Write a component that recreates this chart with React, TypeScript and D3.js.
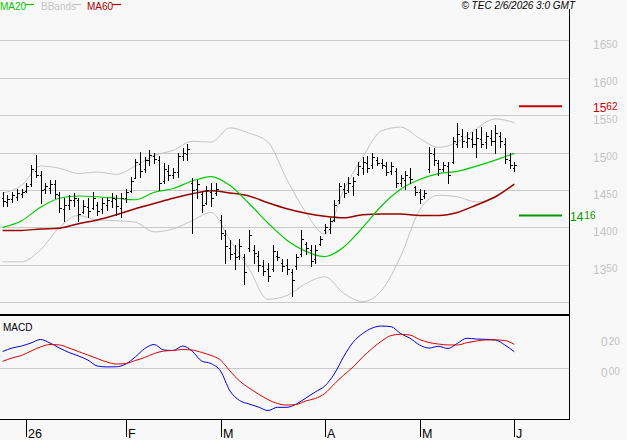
import * as d3 from "d3"

// daily bars, Dec 23 2025 .. Jun 1 2026 (index based)
const highs = [
  1448, 1443, 1448, 1451, 1451, 1459, 1483, 1497, 1476, 1459, 1463, 1463, 1447, 1439, 1443, 1446,
  1439, 1436, 1439, 1447, 1434, 1439, 1441, 1446, 1443, 1446, 1452, 1467, 1492, 1501, 1494, 1504,
  1499, 1495, 1486, 1483, 1480, 1500, 1506, 1512, 1466, 1463, 1447, 1456, 1460, 1459, 1417, 1396,
  1383, 1376, 1385, 1365, 1396, 1376, 1369, 1356, 1352, 1376, 1369, 1358, 1358, 1345, 1365, 1396,
  1380, 1376, 1376, 1389, 1405, 1412, 1436, 1460, 1460, 1467, 1467, 1487, 1494, 1496, 1500, 1494,
  1492, 1487, 1487, 1480, 1470, 1476, 1479, 1456, 1452, 1450, 1507, 1506, 1490, 1487, 1487, 1521,
  1539, 1532, 1527, 1527, 1532, 1534, 1527, 1530, 1537, 1527, 1519, 1499, 1487,
]
const lows = [
  1429, 1429, 1434, 1437, 1441, 1447, 1456, 1467, 1432, 1446, 1446, 1439, 1420, 1409, 1425, 1429,
  1409, 1419, 1414, 1425, 1416, 1419, 1423, 1427, 1416, 1414, 1434, 1447, 1466, 1468, 1474, 1483,
  1486, 1450, 1459, 1463, 1466, 1467, 1490, 1490, 1392, 1440, 1420, 1431, 1429, 1444, 1385, 1352,
  1358, 1345, 1358, 1325, 1369, 1353, 1342, 1336, 1329, 1342, 1356, 1342, 1338, 1309, 1345, 1362,
  1365, 1349, 1353, 1376, 1393, 1393, 1409, 1432, 1441, 1448, 1443, 1470, 1472, 1474, 1480, 1483,
  1479, 1470, 1472, 1454, 1456, 1452, 1460, 1443, 1432, 1439, 1474, 1483, 1470, 1476, 1460, 1486,
  1507, 1507, 1507, 1507, 1494, 1507, 1506, 1510, 1499, 1507, 1486, 1480, 1476,
]
const opens = [
  1440, 1434, 1438, 1441, 1445, 1449, 1458, 1476, 1470, 1452, 1453, 1458, 1444, 1425, 1430, 1436,
  1436, 1420, 1427, 1426, 1430, 1424, 1430, 1435, 1438, 1426, 1440, 1449, 1466, 1485, 1478, 1490,
  1496, 1490, 1462, 1476, 1470, 1474, 1495, 1498, 1460, 1452, 1445, 1432, 1448, 1446, 1410, 1390,
  1372, 1366, 1362, 1360, 1372, 1370, 1362, 1348, 1344, 1345, 1362, 1352, 1350, 1340, 1348, 1365,
  1378, 1370, 1358, 1378, 1396, 1398, 1410, 1436, 1452, 1450, 1455, 1472, 1480, 1486, 1484, 1490,
  1486, 1482, 1476, 1476, 1460, 1464, 1468, 1454, 1448, 1442, 1478, 1498, 1486, 1478, 1482, 1488,
  1512, 1522, 1514, 1518, 1512, 1518, 1514, 1520, 1516, 1522, 1512, 1490, 1480,
]
const closes = [
  1435, 1438, 1444, 1446, 1448, 1456, 1478, 1470, 1450, 1455, 1458, 1445, 1426, 1430, 1437, 1440,
  1418, 1428, 1422, 1440, 1422, 1432, 1436, 1440, 1428, 1440, 1447, 1462, 1487, 1476, 1490, 1497,
  1492, 1460, 1478, 1470, 1474, 1496, 1500, 1505, 1450, 1458, 1430, 1450, 1440, 1452, 1392, 1375,
  1365, 1360, 1375, 1340, 1390, 1366, 1350, 1342, 1335, 1368, 1360, 1348, 1344, 1330, 1360, 1385,
  1372, 1355, 1370, 1385, 1400, 1408, 1430, 1455, 1446, 1460, 1462, 1482, 1488, 1480, 1494, 1486,
  1484, 1474, 1482, 1460, 1466, 1470, 1465, 1447, 1438, 1446, 1500, 1490, 1478, 1484, 1470, 1515,
  1525, 1515, 1520, 1512, 1520, 1512, 1522, 1516, 1526, 1515, 1492, 1484, 1484,
]

// overlays read every 4th bar
const ma20 = [
  1400, 1409, 1427, 1439, 1442, 1441, 1439, 1437, 1447, 1452, 1462, 1468, 1456, 1432,
  1406, 1383, 1368, 1361, 1374, 1400, 1429, 1451, 1464, 1472, 1475, 1482, 1490, 1499,
]
const ma60 = [
  1396, 1396, 1398, 1399, 1405, 1410, 1417, 1425, 1432, 1439, 1445, 1449, 1446, 1442,
  1433, 1425, 1419, 1415, 1413, 1417, 1418, 1418, 1416, 1416, 1420, 1430, 1441, 1458,
]
const bbUpper = [
  1446, 1456, 1482, 1479, 1472, 1474, 1471, 1482, 1496, 1503, 1515, 1514, 1533, 1526,
  1514, 1464, 1420, 1391, 1450, 1494, 1529, 1534, 1519, 1507, 1514, 1532, 1545, 1540,
]
const bbLower = [
  1354, 1354, 1370, 1400, 1416, 1410, 1409, 1407, 1394, 1398, 1409, 1420, 1383, 1345,
  1304, 1309, 1325, 1334, 1312, 1301, 1316, 1361, 1423, 1443, 1441, 1434, 1440, 1458,
]

// MACD read every 2nd bar
const macd = [
  0.110, 0.133, 0.146, 0.166, 0.189, 0.166, 0.133, 0.104, 0.081, 0.054, 0.015, 0.009, 0.010, 0.028,
  0.074, 0.130, 0.156, 0.120, 0.117, 0.146, 0.113, 0.048, 0.031, -0.018, -0.149, -0.211, -0.234,
  -0.254, -0.277, -0.256, -0.256, -0.234, -0.195, -0.155, -0.116, -0.037, 0.077, 0.172, 0.228,
  0.264, 0.277, 0.273, 0.228, 0.197, 0.153, 0.133, 0.144, 0.130, 0.164, 0.197, 0.192, 0.190, 0.186,
  0.153, 0.109,
]
const signal = [
  0.045, 0.068, 0.084, 0.113, 0.140, 0.156, 0.153, 0.133, 0.110, 0.087, 0.064, 0.041, 0.028, 0.031,
  0.051, 0.071, 0.097, 0.113, 0.117, 0.123, 0.120, 0.104, 0.084, 0.054, -0.018, -0.083, -0.129,
  -0.169, -0.205, -0.231, -0.241, -0.237, -0.214, -0.198, -0.165, -0.103, -0.044, 0.009, 0.074,
  0.130, 0.179, 0.215, 0.223, 0.218, 0.189, 0.169, 0.159, 0.153, 0.153, 0.168, 0.179, 0.186, 0.186,
  0.182, 0.157,
]

const priceTicks = [1300, 1350, 1400, 1450, 1500, 1550, 1600, 1650]
const macdTicks = [0.2, 0]
const monthIdx = [5, 26, 46, 68, 88, 108]
const monthLabels = ["26", "F", "M", "A", "M", "J"]
const resistance = 1562
const support = 1416

const FONT = "'Liberation Sans', Arial, sans-serif"
const GRID = "#c8c8c8"

export default function App() {
  const width = 627
  const height = 440
  const right = 569.5

  const x = d3.scaleLinear().domain([0, highs.length - 1]).range([2.6, 514.3])
  const y = d3.scaleLinear().domain([1300, 1650]).range([302.3, 40.3])
  const ym = d3.scaleLinear().domain([0, 0.2]).range([368.3, 337.8])

  const px = (i) => Math.round(x(i)) + 0.5
  const py = (v) => Math.round(y(v)) + 0.5

  const maLine = d3
    .line<number>()
    .x((_, k) => x(k * 4))
    .y((d) => y(d))
    .curve(d3.curveMonotoneX)

  const macdLine = d3
    .line<number>()
    .x((_, k) => x(k * 2))
    .y((d) => ym(d))
    .curve(d3.curveMonotoneX)

  const bars = highs
    .map((h, i) => {
      const cx = px(i)
      return `M${cx},${py(h) - 0.5}V${py(lows[i]) + 0.5}M${cx - 2},${py(opens[i])}H${cx}M${cx},${py(closes[i])}H${cx + 2}`
    })
    .join("")

  const splitLabel = (s, cut) => [s.slice(0, cut), s.slice(cut)]

  return (
    <div style={{ position: "fixed", left: 0, top: 0 }}>
      <svg width={width} height={height} style={{ display: "block", background: "#f8f8f8" }}>
        {/* grid */}
        {priceTicks.map((t) => (
          <line key={t} x1={0} x2={right} y1={py(t)} y2={py(t)} stroke={GRID} strokeWidth={1} />
        ))}
        <line x1={0} x2={right} y1={Math.round(ym(0)) + 0.5} y2={Math.round(ym(0)) + 0.5} stroke={GRID} />

        {/* bollinger bands and moving averages */}
        <path d={maLine(bbUpper)} fill="none" stroke="#c4c4c4" strokeWidth={1} />
        <path d={maLine(bbLower)} fill="none" stroke="#c4c4c4" strokeWidth={1} />
        <path d={maLine(ma60)} fill="none" stroke="#990000" strokeWidth={1.5} />
        <path d={maLine(ma20)} fill="none" stroke="#00cc00" strokeWidth={1.2} />

        {/* bars */}
        <path d={bars} fill="none" stroke="#000" strokeWidth={1} shapeRendering="crispEdges" />

        {/* support / resistance */}
        <line x1={519} x2={562} y1={y(resistance)} y2={y(resistance)} stroke="#cc0000" strokeWidth={2} />
        <line x1={519} x2={562} y1={y(support)} y2={y(support)} stroke="#009900" strokeWidth={2} />

        {/* frame */}
        <line x1={right} x2={right} y1={9} y2={419.5} stroke="#000" strokeWidth={1} />
        <line x1={0} x2={right} y1={315} y2={315} stroke="#000" strokeWidth={2} />
        <line x1={0} x2={right + 0.5} y1={419.5} y2={419.5} stroke="#000" strokeWidth={1} />

        {/* price labels */}
        <g fontFamily={FONT} fill="#c4c4c4">
          {priceTicks.slice(1).map((t) => {
            const [a, b] = splitLabel(String(t), 2)
            return (
              <text key={t} x={593} y={y(t) + 9}>
                <tspan fontSize={12}>{a}</tspan>
                <tspan fontSize={10} dy={-1.5}>{b}</tspan>
              </text>
            )
          })}
          {macdTicks.map((t) => {
            const [a, b] = splitLabel(t.toFixed(2).replace(".", ""), 1)
            return (
              <text key={t} x={601} y={ym(t) + 8.5}>
                <tspan fontSize={12}>{a}</tspan>
                <tspan fontSize={10} dx={1} dy={-1.5}>{b}</tspan>
              </text>
            )
          })}
        </g>

        <text x={593} y={y(resistance) + 5.5} fontFamily={FONT} fill="#cc0000">
          <tspan fontSize={12}>{String(resistance).slice(0, 2)}</tspan>
          <tspan fontSize={10} dy={-1.5}>{String(resistance).slice(2)}</tspan>
        </text>
        <text x={570} y={y(support) + 5.5} fontFamily={FONT} fill="#009900">
          <tspan fontSize={12}>{String(support).slice(0, 2)}</tspan>
          <tspan fontSize={10} dx={1} dy={-1.5}>{String(support).slice(2)}</tspan>
        </text>

        {/* macd */}
        <path d={macdLine(macd)} fill="none" stroke="#0000dd" strokeWidth={1} />
        <path d={macdLine(signal)} fill="none" stroke="#dd0000" strokeWidth={1} />
        <text x={3} y={331} fontFamily={FONT} fontSize={10} fill="#000">MACD</text>

        {/* month axis */}
        {monthIdx.map((m, k) => (
          <g key={k}>
            <line x1={px(m)} x2={px(m)} y1={419.5} y2={437} stroke="#000" />
            <text x={px(m) + 1.5} y={437.5} fontFamily={FONT} fontSize={12.5} fill="#000">
              {monthLabels[k]}
            </text>
          </g>
        ))}

        {/* legend */}
        <g fontFamily={FONT} fontSize={10}>
          <text x={0} y={9.5} fill="#00cc00">MA20</text>
          <line x1={25} x2={34} y1={4.5} y2={4.5} stroke="#00cc00" strokeWidth={1.2} />
          <text x={41} y={9.5} fill="#c4c4c4">BBands</text>
          <line x1={73} x2={81} y1={4.5} y2={4.5} stroke="#c4c4c4" strokeWidth={1.2} />
          <text x={87} y={9.5} fill="#aa0000">MA60</text>
          <line x1={112} x2={121} y1={4.5} y2={4.5} stroke="#aa0000" strokeWidth={1.2} />
        </g>
        <text x={575} y={8.5} textAnchor="end" fontFamily={FONT} fontSize={10} fontStyle="italic" fill="#000">
          © TEC 2/6/2026 3:0 GMT
        </text>
      </svg>
    </div>
  )
}
